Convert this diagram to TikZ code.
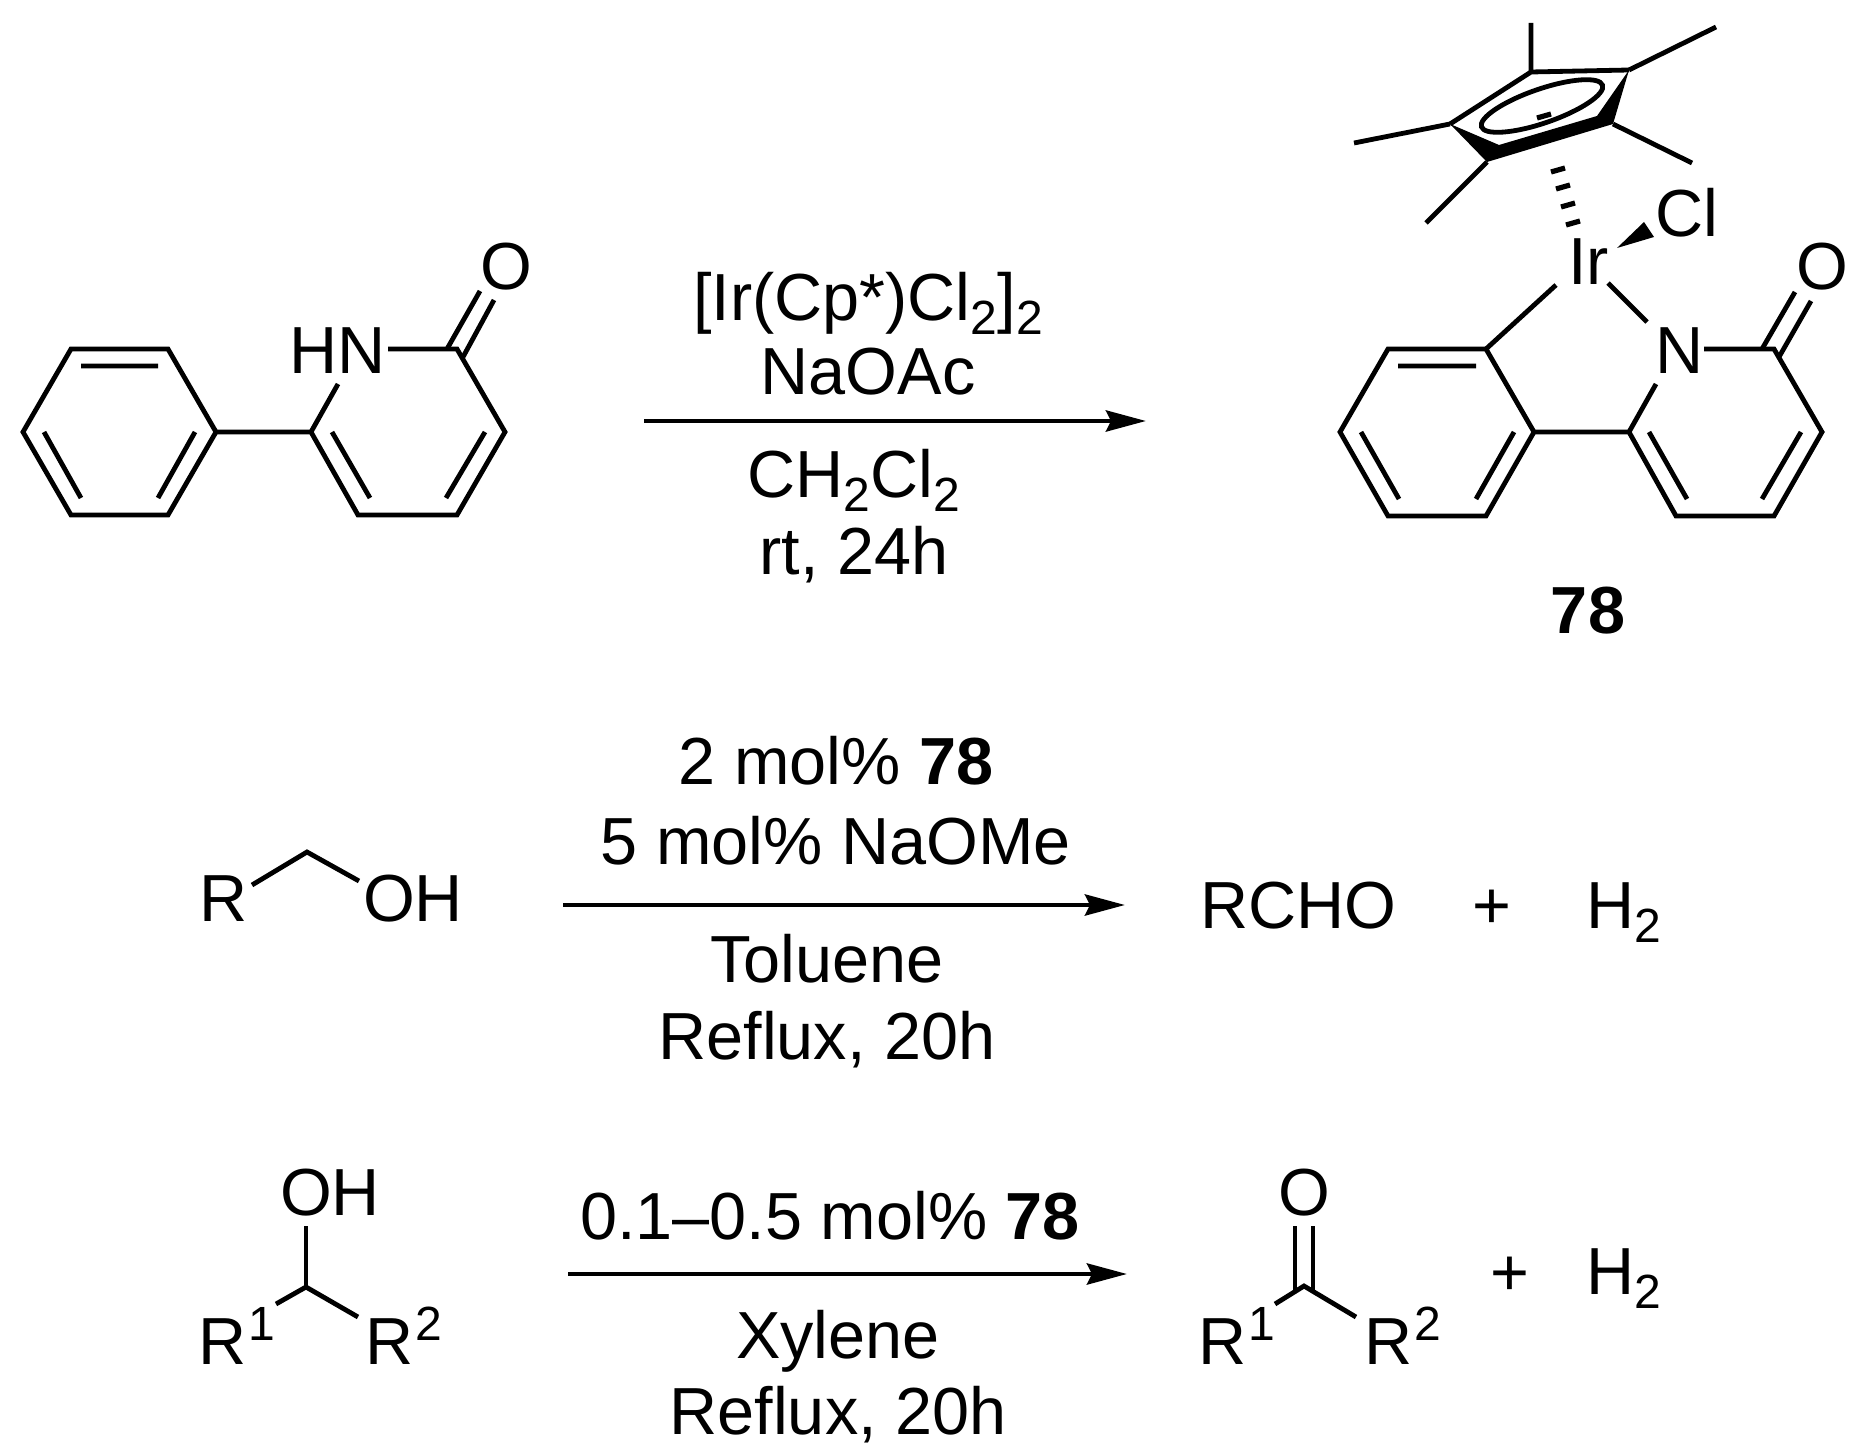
\documentclass[tikz,border=0pt]{standalone}
\usepackage{fontspec}
\setmainfont{Liberation Sans}
\usetikzlibrary{arrows.meta}
\newcommand{\bsub}[1]{\raisebox{-7pt}{\fontsize{24}{24}\selectfont #1}}
\newcommand{\bsup}[1]{\kern1pt\raisebox{12pt}{\fontsize{24}{24}\selectfont #1}}
\tikzset{
  bond/.style={line width=2.4pt,line cap=butt,line join=miter},
  atom/.style={inner sep=0pt,outer sep=0pt,font=\fontsize{33.3}{40}\selectfont,anchor=base west},
  cond/.style={inner sep=0pt,outer sep=0pt,font=\fontsize{33.3}{40}\selectfont,anchor=base},
  rxn/.style={line width=2.4pt,-{Stealth[length=20pt,width=10.5pt,inset=2.5pt]}},
}
\begin{document}
\begin{tikzpicture}[x=0.5pt,y=-0.5pt]
\useasboundingbox (0,0) rectangle (1869,1455);
% ---------- starting material
\node[atom] (hn) at (289,373) {HN};
\node[cond] (oa) at (506,290) {O};
\coordinate (a1) at (23,432); \coordinate (a2) at (71,349); \coordinate (a3) at (168,349);
\coordinate (a4) at (216,432); \coordinate (a5) at (168,515); \coordinate (a6) at (71,515);
\coordinate (p1) at (311,432); \coordinate (p2) at (358,515); \coordinate (p3) at (457,515);
\coordinate (p4) at (505,432); \coordinate (p5) at (457,349);
\coordinate (pn1) at (338,384); \coordinate (pn2) at (388,349);
\draw[bond] (a1)--(a2)--(a3)--(a4)--(a5)--(a6)--cycle;
\draw[bond] (81,366)--(158,366) (44,432)--(81,498) (195,432)--(158,498);
\draw[bond] (a4)--(p1) (pn1)--(p1)--(p2)--(p3)--(p4)--(p5)--(pn2);
\draw[bond] (332,432)--(370,498) (485,432)--(446,498);
\draw[bond] (447,349)--(480,291) (463,357)--(494,300);
% ---------- complex 78
\node[atom] (ir) at (1568,285) {Ir};
\node[atom] (cl) at (1655,237) {Cl};
\node[atom] (nb) at (1655,373) {N};
\node[cond] (ob) at (1822,290) {O};
\node[cond,font=\fontsize{33.3}{40}\selectfont\bfseries] (cmp) at (1588,633) {78};
\coordinate (b1) at (1340,432); \coordinate (b2) at (1388,349); \coordinate (b3) at (1486,349);
\coordinate (b4) at (1534,432); \coordinate (b5) at (1486,516); \coordinate (b6) at (1388,516);
\coordinate (q1) at (1629,432); \coordinate (q2) at (1676,516); \coordinate (q3) at (1774,516);
\coordinate (q4) at (1822,432); \coordinate (q5) at (1774,349);
\coordinate (qn1) at (1656,384); \coordinate (qn2) at (1704,349);
\draw[bond] (b1)--(b2)--(b3)--(b4)--(b5)--(b6)--cycle;
\draw[bond] (1398,366)--(1476,366) (1361,432)--(1399,499) (1514,432)--(1476,499);
\draw[bond] (b4)--(q1) (qn1)--(q1)--(q2)--(q3)--(q4)--(q5)--(qn2);
\draw[bond] (1649,432)--(1687,499) (1801,432)--(1762,499);
\draw[bond] (1762,349)--(1795,292) (1779,357)--(1811,301);
\draw[bond] (1556,285)--(b3) (1608,283)--(1647,322);
% Cl wedge
\fill (1617,248)--(1644,222)--(1654,237)--cycle;
% hashed bond
\draw[line width=2.6pt] (1551,172)--(1565,168) (1556,189)--(1570,185) (1561,207)--(1575,203) (1566,225)--(1580,221);
% Cp*
\coordinate (ca) at (1531,72); \coordinate (cb) at (1629,70); \coordinate (cc) at (1450,124);
\coordinate (cd) at (1487,162); \coordinate (ce) at (1613,124);
\draw[bond] (cc)--(ca)--(cb);
\fill (cc)--(1499,145)--(1597,116)--(cb)--(ce)--(cd)--cycle;
\draw[bond] (ca)--(1531,23) (cb)--(1716,27) (cc)--(1354,143) (cd)--(1426,223) (ce)--(1692,163);
\begin{scope}[shift={(1542,106)},rotate=19]
\draw[bond] (0,0) ellipse[x radius=64,y radius=17];
\end{scope}
\draw[line width=2.6pt] (1537,118)--(1551,114);
% ---------- reaction 1
\draw[rxn] (644,421)--(1146,421);
\node[cond] (c1a) at (868,321) {[Ir(Cp*)Cl\bsub{2}]\bsub{2}};
\node[cond] (c1b) at (868,394) {NaOAc};
\node[cond] (c1c) at (854,497) {CH\bsub{2}Cl\bsub{2}};
\node[cond] (c1d) at (854,574) {rt, 24h};
% ---------- reaction 2
\node[atom] (r2r) at (199,921) {R};
\node[atom] (r2oh) at (363,921) {OH};
\draw[bond] (252,885)--(307,852)--(359,881);
\draw[rxn] (563,905)--(1125,905);
\node[cond] (c2a) at (836,784) {2 mol\% \textbf{78}};
\node[cond] (c2b) at (836,864) {5 mol\% NaOMe};
\node[cond] (c2c) at (827,982) {Toluene};
\node[cond] (c2d) at (827,1059) {Reflux, 20h};
\node[atom] (rcho) at (1200,928) {RCHO};
\node[cond] (pl2) at (1492,928) {+};
\node[atom] (h2a) at (1586,928) {H\bsub{2}};
% ---------- reaction 3
\node[atom] (r3oh) at (280,1215) {OH};
\node[atom] (r31) at (198,1364) {R\bsup{1}};
\node[atom] (r32) at (365,1364) {R\bsup{2}};
\coordinate (r3c) at (306,1287);
\draw[bond] (306,1226)--(r3c);
\draw[bond] (276,1304)--(r3c)--(358,1317);
\draw[rxn] (568,1274)--(1127,1274);
\node[cond] (c3a) at (830,1239) {0.1--0.5 mol\% \textbf{78}};
\node[cond] (c3c) at (838,1358) {Xylene};
\node[cond] (c3d) at (838,1434) {Reflux, 20h};
\node[cond] (ok) at (1304,1215) {O};
\node[atom] (k1) at (1198,1364) {R\bsup{1}};
\node[atom] (k2) at (1364,1364) {R\bsup{2}};
\coordinate (kc) at (1304,1286);
\draw[bond] (1295,1226)--(1295,1291) (1313,1226)--(1313,1291);
\draw[bond] (1275,1304)--(kc)--(1356,1317);
\node[cond] (pl3) at (1510,1295) {+};
\node[atom] (h2b) at (1586,1294) {H\bsub{2}};
\end{tikzpicture}
\end{document}
